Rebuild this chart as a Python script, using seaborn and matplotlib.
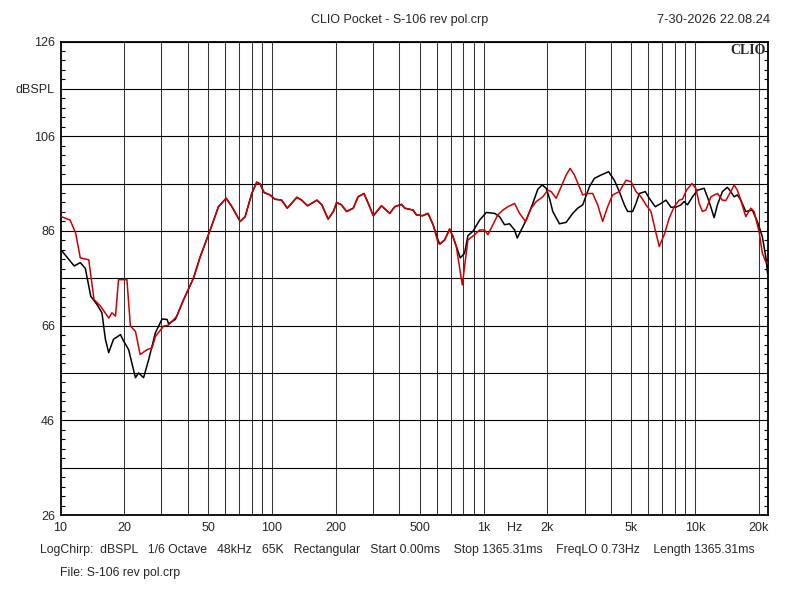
import matplotlib
matplotlib.use("Agg")
import matplotlib.pyplot as plt
from matplotlib.ticker import FixedLocator, NullFormatter
import seaborn as sns
import pandas as pd

# ---------------- data ----------------
freq_black = [10.1, 11.6, 12.4, 13.1, 13.9, 14.9, 15.7, 16.3, 16.9, 17.8, 19.2, 19.9, 21.0, 22.6, 23.4,
              24.7, 26.1, 28.1, 30.2, 31.9, 32.4, 34.9, 38.2, 42.5, 45.8, 51.0, 55.8, 60.7, 64.6, 70.7,
              74.6, 80.2, 84.7, 87.8, 91.7, 97.9, 103, 111, 118, 131, 138, 147, 163, 172, 184, 195,
              202, 213, 225, 242, 255, 272, 285, 301, 329, 360, 380, 409, 424, 464, 481, 514, 546,
              577, 609, 620, 655, 691, 716, 743, 776, 813, 843, 890, 958, 1030, 1127, 1190, 1256,
              1326, 1401, 1442, 1506, 1590, 1708, 1804, 1892, 1976, 2048, 2123, 2283, 2455, 2638,
              2785, 2941, 3162, 3339, 3591, 3899, 4149, 4381, 4626, 4795, 5062, 5253, 5444, 5812,
              6067, 6476, 6891, 7275, 7681, 8110, 8562, 8874, 9198, 9712, 10252, 11026, 11642,
              12290, 12741, 13451, 14202, 14735, 15276, 15830, 16427, 17346, 18634, 19673, 20774,
              21553, 22000]
spl_black = [81.9, 78.6, 79.3, 78.1, 72.2, 70.4, 68.7, 63.1, 60.3, 63.1, 64.1, 62.7, 60.9, 55.0, 56.0,
             55.0, 58.8, 64.5, 67.4, 67.3, 66.4, 67.3, 71.5, 76.0, 80.6, 86.2, 91.1, 92.9, 91.1, 88.0,
             89.0, 93.9, 96.3, 95.9, 94.1, 93.6, 92.7, 92.5, 90.8, 93.1, 92.5, 91.3, 92.5, 91.5, 88.5,
             90.1, 92.0, 91.5, 90.1, 90.8, 93.2, 93.9, 91.8, 89.2, 91.3, 89.7, 91.1, 91.6, 90.8, 90.4,
             89.4, 89.2, 89.7, 87.3, 84.1, 83.2, 84.1, 86.4, 84.8, 82.7, 80.3, 81.3, 85.0, 85.9, 88.3,
             89.9, 89.7, 89.0, 87.3, 87.5, 86.2, 84.5, 86.2, 88.3, 91.8, 94.8, 95.7, 95.0, 92.9, 90.1,
             87.5, 87.8, 89.7, 90.8, 91.5, 95.3, 97.1, 97.8, 98.5, 96.7, 94.3, 91.5, 90.1, 90.1, 91.8,
             93.9, 94.3, 92.9, 91.1, 91.8, 92.5, 91.0, 91.0, 91.5, 92.2, 91.5, 93.2, 94.6, 95.0, 92.2,
             88.8, 91.5, 94.3, 95.2, 94.3, 93.2, 93.6, 92.5, 90.1, 90.4, 88.0, 84.8, 80.6, 77.0]

freq_red = [10.1, 11.1, 11.8, 12.4, 13.6, 14.4, 15.4, 16.9, 17.5, 18.2, 18.8, 20.6, 21.4, 22.6, 23.8,
            25.6, 27.1, 28.1, 30.7, 32.4, 35.5, 38.2, 42.5, 45.8, 51.0, 55.8, 60.7, 64.6, 70.7,
            74.6, 80.2, 84.7, 87.8, 91.7, 97.9, 103, 111, 118, 131, 138, 147, 163, 172, 184, 195,
            202, 213, 225, 242, 255, 272, 285, 301, 329, 360, 380, 409, 424, 464, 481, 514, 546,
            577, 609, 620, 655, 691, 716, 743, 793, 813, 843, 907, 958, 1011, 1048, 1087, 1168,
            1233, 1302, 1401, 1479, 1578, 1679, 1773, 1905, 2011, 2086, 2203, 2325, 2455, 2564,
            2687, 2837, 2941, 3105, 3278, 3461, 3654, 3857, 4073, 4381, 4712, 4975, 5253, 5546,
            5856, 6180, 6476, 6765, 7142, 7541, 7961, 8406, 8712, 9099, 9648, 10077, 10444,
            10824, 11232, 11860, 12741, 13451, 13956, 14735, 15276, 15830, 16427, 17346, 18310,
            18980, 20040, 20774, 21553, 22000]
spl_red = [89.0, 88.3, 85.5, 80.3, 79.9, 71.5, 70.2, 67.6, 68.7, 68.0, 75.7, 75.7, 65.9, 64.8, 59.9,
           60.9, 61.3, 63.7, 65.9, 66.1, 68.0, 71.5, 76.0, 80.6, 86.2, 91.1, 92.9, 91.1, 88.0,
           89.0, 93.9, 96.3, 95.9, 94.1, 93.6, 92.7, 92.5, 90.8, 93.1, 92.5, 91.3, 92.5, 91.5, 88.5,
           90.1, 92.0, 91.5, 90.1, 90.8, 93.2, 93.9, 91.8, 89.2, 91.3, 89.7, 91.1, 91.6, 90.8, 90.4,
           89.4, 89.2, 89.7, 87.3, 83.5, 83.2, 84.1, 86.4, 84.8, 82.7, 74.6, 78.5, 84.1, 85.2, 86.2,
           86.2, 85.2, 86.6, 89.4, 90.4, 91.1, 91.8, 89.7, 88.0, 90.8, 92.2, 93.2, 94.6, 94.3, 92.9,
           95.3, 97.8, 99.2, 97.8, 95.3, 93.6, 93.9, 93.9, 91.5, 88.0, 91.1, 93.6, 94.3, 96.7, 96.4,
           94.3, 93.2, 91.5, 90.1, 86.2, 82.7, 85.2, 88.7, 91.1, 92.5, 92.7, 94.6, 96.0, 95.0, 91.8,
           90.1, 90.4, 93.2, 93.9, 92.5, 92.4, 94.3, 95.7, 94.6, 92.5, 89.0, 90.8, 90.1, 85.9, 81.3,
           79.5, 79.2]

x_tick_pos = [10, 20, 50, 100, 200, 500, 1000, 1400, 2000, 5000, 10000, 20000]
x_tick_labels = ["10", "20", "50", "100", "200", "500", "1k", "Hz", "2k", "5k", "10k", "20k"]
x_grid = [20, 30, 40, 50, 60, 70, 80, 90, 100, 200, 300, 400, 500, 600, 700, 800, 900, 1000,
          2000, 3000, 4000, 5000, 6000, 7000, 8000, 9000, 10000, 20000]
y_tick_pos = [26, 36, 46, 56, 66, 76, 86, 96, 106, 116, 126]
y_tick_labels = ["26", "", "46", "", "66", "", "86", "", "106", "dBSPL", "126"]
y_minor = list(range(26, 127, 2))

title = "CLIO Pocket - S-106 rev pol.crp"
date_text = "7-30-2026 22.08.24"
info_text = ("LogChirp:  dBSPL   1/6 Octave   48kHz   65K   Rectangular   Start 0.00ms    "
             "Stop 1365.31ms    FreqLO 0.73Hz    Length 1365.31ms")
file_text = "File: S-106 rev pol.crp"

# ---------------- plot ----------------
sns.set_style("white")
plt.rcParams["font.family"] = ["Liberation Sans Narrow", "Liberation Sans", "DejaVu Sans"]

df_black = pd.DataFrame({"f": freq_black, "spl": spl_black})
df_red = pd.DataFrame({"f": freq_red, "spl": spl_red})

fig = plt.figure(figsize=(8, 6), dpi=100)
ax = fig.add_axes([60.5 / 800, 1 - 515 / 600, (767.6 - 60.5) / 800, (515 - 41.5) / 600])

sns.lineplot(data=df_black, x="f", y="spl", ax=ax, color="black", lw=1.1,
             estimator=None, sort=False, zorder=3)
sns.lineplot(data=df_red, x="f", y="spl", ax=ax, color="#d00000", lw=1.1,
             estimator=None, sort=False, zorder=4)

ax.set_xscale("log")
ax.set_xlim(10, 22000)
ax.set_ylim(26, 126)
ax.set_xlabel("")
ax.set_ylabel("")

ax.xaxis.set_major_locator(FixedLocator(x_tick_pos))
ax.set_xticklabels(x_tick_labels)
ax.xaxis.set_minor_locator(FixedLocator(x_grid))
ax.xaxis.set_minor_formatter(NullFormatter())
ax.yaxis.set_major_locator(FixedLocator(y_tick_pos))
ax.set_yticklabels(y_tick_labels)
ax.yaxis.set_minor_locator(FixedLocator(y_minor))

for f in x_grid:
    ax.axvline(f, color="#333333", lw=0.75, zorder=1)
for v in y_tick_pos:
    ax.axhline(v, color="black", lw=0.8, zorder=1)

ax.tick_params(axis="x", which="both", length=0, pad=5, labelsize=9)
ax.tick_params(axis="y", which="major", length=0, pad=4, labelsize=9)
ax.tick_params(axis="y", which="minor", left=True, right=True, direction="in",
               length=3, width=0.8, color="black")

for s in ax.spines.values():
    s.set_color("black")
    s.set_linewidth(1.3)
    s.set_visible(True)

ax.text(0.998, 0.995, "CLIO", transform=ax.transAxes, ha="right", va="top",
        fontsize=10, fontweight="bold", family=["Liberation Serif", "DejaVu Serif"], zorder=5)

fig.text(0.5, 0.967, title, ha="center", va="center", fontsize=9)
fig.text(0.9625, 0.967, date_text, ha="right", va="center", fontsize=9.3)
fig.text(0.05, 0.083, info_text, ha="left", va="center", fontsize=8.8)
fig.text(0.075, 0.045, file_text, ha="left", va="center", fontsize=8.8)

fig.savefig("out.png", dpi=100)
